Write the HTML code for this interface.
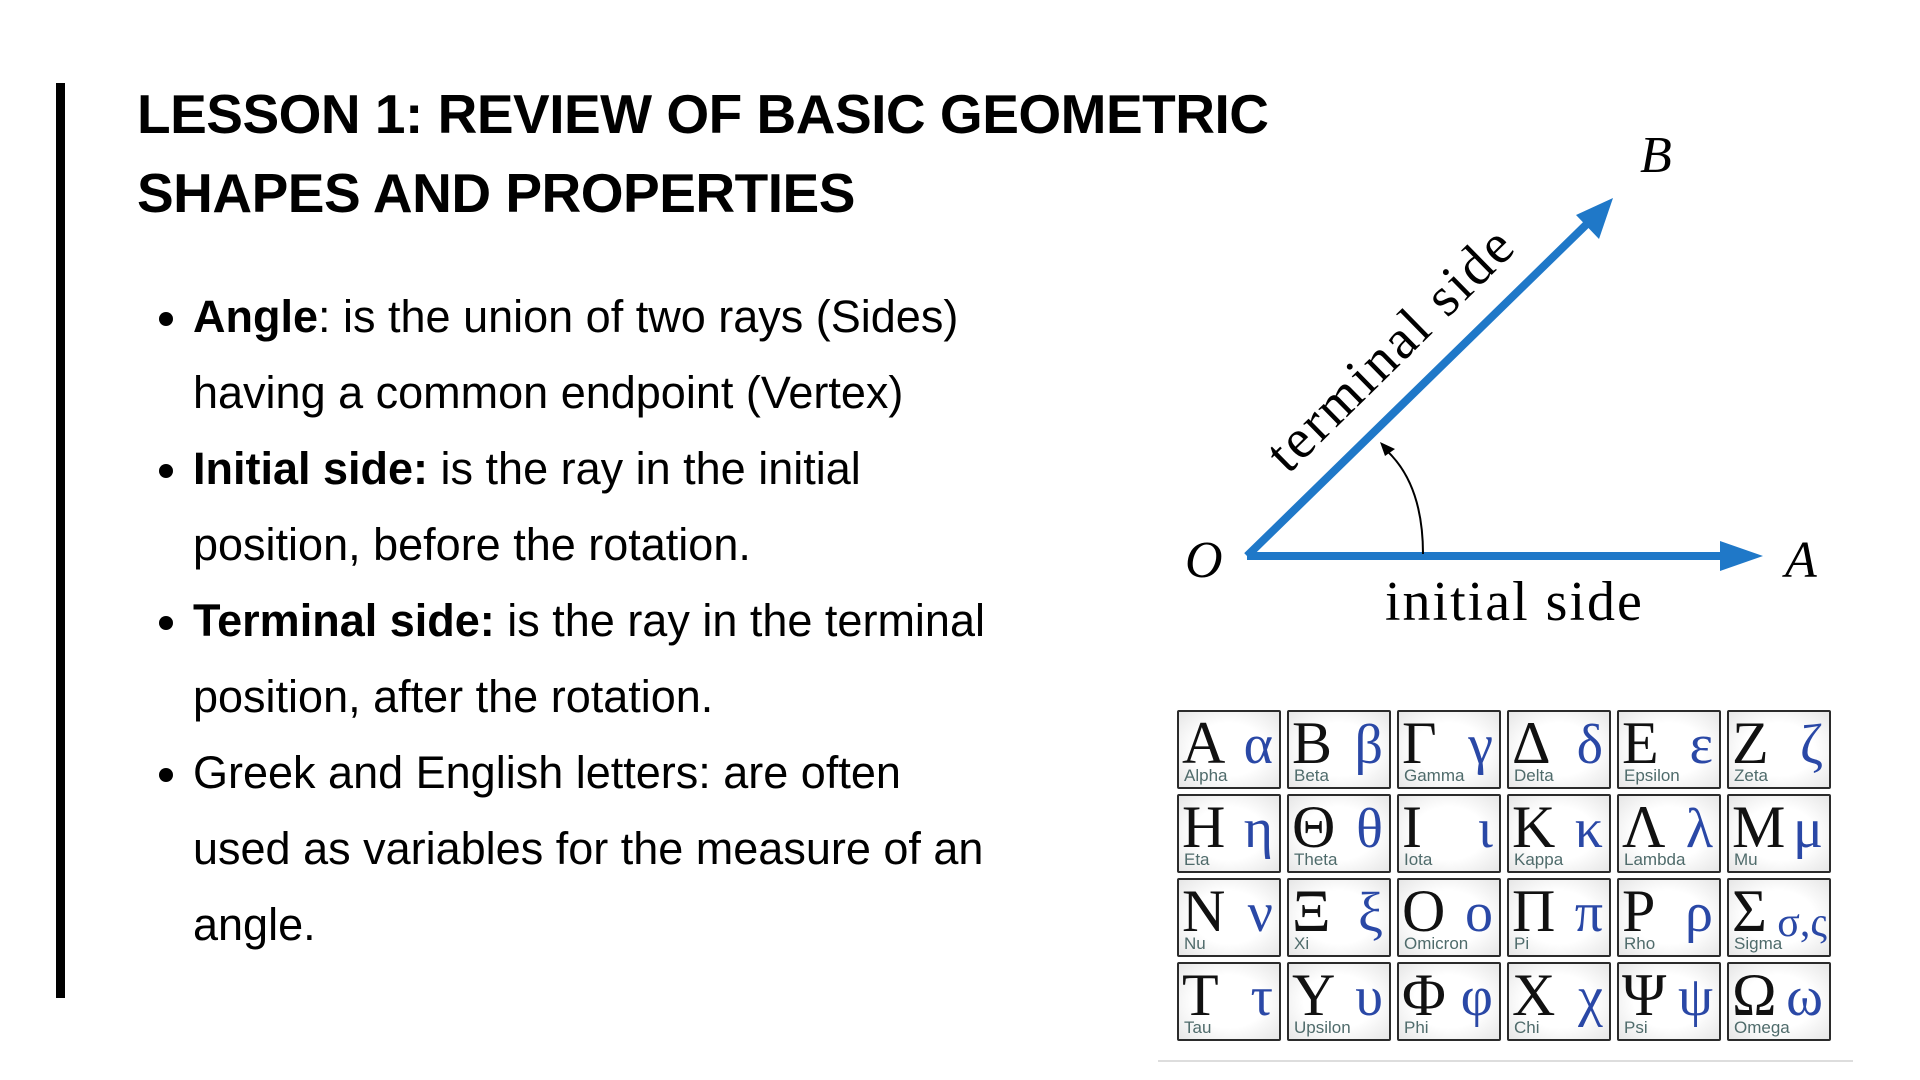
<!DOCTYPE html>
<html><head><meta charset="utf-8"><style>
html,body{margin:0;padding:0;background:#fff;}
body{width:1920px;height:1080px;position:relative;overflow:hidden;font-family:"Liberation Sans",sans-serif;color:#000;}
.bar{position:absolute;left:56px;top:83px;width:9px;height:915px;background:#000;}
.title{position:absolute;left:137px;top:75px;font-size:55px;font-weight:bold;line-height:79px;letter-spacing:-0.5px;}
ul{position:absolute;left:150px;top:279px;margin:0;padding:0 0 0 43px;font-size:45px;line-height:76px;width:1000px;}
li{margin:0;padding-left:0;}
.grid{position:absolute;left:1177px;top:710px;display:grid;grid-template-columns:repeat(6,104px);grid-template-rows:repeat(4,79px);column-gap:6px;row-gap:5px;}
.c{border:2px solid #2b2b2b;border-radius:2px;background:radial-gradient(ellipse at center,#fff 50%,#e6e6e6 100%);position:relative;overflow:hidden;box-sizing:border-box;font-family:"Liberation Serif",serif;}
.u{position:absolute;left:3px;top:0px;font-size:60px;line-height:62px;color:#111;}
.l{position:absolute;right:6px;top:2px;font-size:56px;line-height:62px;color:#2a48a6;}
.n{position:absolute;left:5px;bottom:1px;font-family:"Liberation Sans",sans-serif;font-size:17px;color:#4f6b6b;}
.hr{position:absolute;left:1158px;top:1060px;width:695px;height:2px;background:#ddd;}
</style></head><body>
<div class="bar"></div>
<div class="title">LESSON 1: REVIEW OF BASIC GEOMETRIC<br>SHAPES AND PROPERTIES</div>
<ul>
<li><b>Angle</b>: is the union of two rays (Sides)<br>having a common endpoint (Vertex)</li>
<li><b>Initial side:</b> is the ray in the initial<br>position, before the rotation.</li>
<li><b>Terminal side:</b> is the ray in the terminal<br>position, after the rotation.</li>
<li>Greek and English letters: are often<br>used as variables for the measure of an<br>angle.</li>
</ul>
<svg style="position:absolute;left:0;top:0" width="1920" height="1080">
<g stroke="#1f78c8" stroke-width="8" fill="none">
<line x1="1247" y1="556" x2="1725" y2="556"/>
<line x1="1247" y1="556" x2="1592" y2="219"/>
</g>
<polygon points="1763,556 1720,541 1720,571" fill="#1f78c8"/>
<polygon points="1613,198 1599,239 1576,215" fill="#1f78c8"/>
<path d="M1423,554 Q1423,483 1385,449" stroke="#000" stroke-width="2" fill="none"/>
<polygon points="1380,442 1395,449 1385,456" fill="#000"/>
<g font-family="Liberation Serif,serif" font-style="italic" font-size="52">
<text x="1185" y="577">O</text>
<text x="1785" y="577">A</text>
<text x="1640" y="172">B</text>
</g>
<text x="1385" y="620" font-family="Liberation Serif,serif" font-size="56" letter-spacing="2">initial side</text>
<text x="0" y="0" font-family="Liberation Serif,serif" font-size="56" letter-spacing="2.5" transform="translate(1288,475) rotate(-44.5)">terminal side</text>
</svg>
<div class="grid">
<div class="c"><span class="u">Α</span><span class="l">α</span><span class="n">Alpha</span></div>
<div class="c"><span class="u">Β</span><span class="l">β</span><span class="n">Beta</span></div>
<div class="c"><span class="u">Γ</span><span class="l">γ</span><span class="n">Gamma</span></div>
<div class="c"><span class="u">Δ</span><span class="l">δ</span><span class="n">Delta</span></div>
<div class="c"><span class="u">Ε</span><span class="l">ε</span><span class="n">Epsilon</span></div>
<div class="c"><span class="u">Ζ</span><span class="l">ζ</span><span class="n">Zeta</span></div>
<div class="c"><span class="u">Η</span><span class="l">η</span><span class="n">Eta</span></div>
<div class="c"><span class="u">Θ</span><span class="l">θ</span><span class="n">Theta</span></div>
<div class="c"><span class="u">Ι</span><span class="l">ι</span><span class="n">Iota</span></div>
<div class="c"><span class="u">Κ</span><span class="l">κ</span><span class="n">Kappa</span></div>
<div class="c"><span class="u">Λ</span><span class="l">λ</span><span class="n">Lambda</span></div>
<div class="c"><span class="u">Μ</span><span class="l">μ</span><span class="n">Mu</span></div>
<div class="c"><span class="u">Ν</span><span class="l">ν</span><span class="n">Nu</span></div>
<div class="c"><span class="u">Ξ</span><span class="l">ξ</span><span class="n">Xi</span></div>
<div class="c"><span class="u">Ο</span><span class="l">ο</span><span class="n">Omicron</span></div>
<div class="c"><span class="u">Π</span><span class="l">π</span><span class="n">Pi</span></div>
<div class="c"><span class="u">Ρ</span><span class="l">ρ</span><span class="n">Rho</span></div>
<div class="c"><span class="u">Σ</span><span class="l" style="font-size:42px;top:12px;right:2px">σ,ς</span><span class="n">Sigma</span></div>
<div class="c"><span class="u">Τ</span><span class="l">τ</span><span class="n">Tau</span></div>
<div class="c"><span class="u">Υ</span><span class="l">υ</span><span class="n">Upsilon</span></div>
<div class="c"><span class="u">Φ</span><span class="l">φ</span><span class="n">Phi</span></div>
<div class="c"><span class="u">Χ</span><span class="l">χ</span><span class="n">Chi</span></div>
<div class="c"><span class="u">Ψ</span><span class="l">ψ</span><span class="n">Psi</span></div>
<div class="c"><span class="u">Ω</span><span class="l">ω</span><span class="n">Omega</span></div>
</div>
<div class="hr"></div>
</body></html>
